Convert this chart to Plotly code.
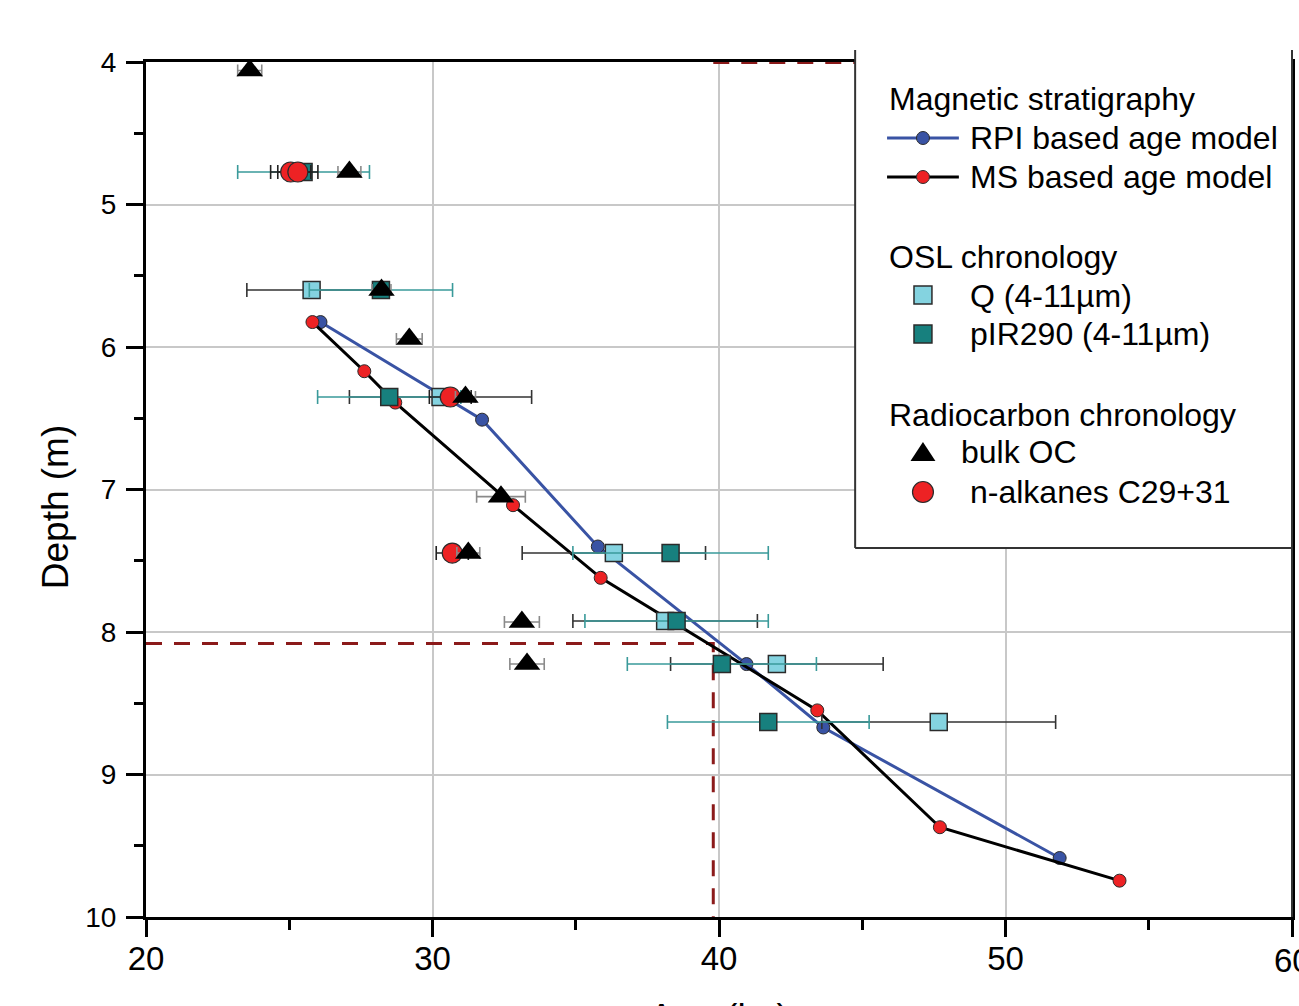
import plotly.graph_objects as go

# ---------------- data ----------------
# Magnetic stratigraphy age models (age ka, depth m)
rpi_age = [26.09, 31.73, 35.77, 40.96, 43.64, 51.89]
rpi_depth = [5.825, 6.51, 7.40, 8.225, 8.67, 9.586]

ms_age = [25.81, 27.62, 28.70, 32.81, 35.87, 43.43, 47.71, 53.98]
ms_depth = [5.825, 6.17, 6.39, 7.11, 7.62, 8.55, 9.37, 9.745]

# OSL chronology
q_age = [25.78, 30.28, 36.33, 38.12, 42.02, 47.67]
q_depth = [5.60, 6.351, 7.446, 7.923, 8.225, 8.632]
q_err = [2.26, 3.18, 3.20, 3.22, 3.71, 4.08]

pir_age = [25.50, 28.20, 28.49, 38.31, 38.52, 40.10, 41.72]
pir_depth = [4.772, 5.60, 6.351, 7.446, 7.923, 8.225, 8.632]
pir_err = [2.30, 2.50, 2.50, 3.41, 3.20, 3.30, 3.52]

# Radiocarbon chronology
oc_age = [23.62, 27.10, 28.22, 29.19, 31.15, 32.39, 31.25, 33.12, 33.30]
oc_depth = [4.06, 4.772, 5.60, 5.944, 6.351, 7.05, 7.446, 7.93, 8.225]
oc_err = [0.42, 0.40, 0.33, 0.45, 0.35, 0.85, 0.40, 0.61, 0.60]

alk_age = [25.05, 25.30, 30.62, 30.69]
alk_depth = [4.772, 4.772, 6.351, 7.446]
alk_err = [0.70, 0.70, 0.73, 0.56]

# reference (dashed) guide
guide_depth = 8.08
guide_age = 39.8

x_ticks = [20, 30, 40, 50, 60]

# ---------------- styles ----------------
FONT = "Liberation Sans, Arial, sans-serif"
BLUE = "#3953A4"
RED = "#ED2224"
TEAL = "#17807E"
TEAL_ERR = "#3A9A9A"
CYAN = "#84D3E0"
DARKRED = "#8B1A1A"
EDGE = "#2b2b2b"

fig = go.Figure()

# dashed guide lines
fig.add_trace(go.Scatter(x=[20, guide_age, guide_age], y=[guide_depth, guide_depth, 10],
                         mode="lines", line=dict(color=DARKRED, width=3, dash="16px,12px"),
                         hoverinfo="skip"))
fig.add_trace(go.Scatter(x=[guide_age, 60], y=[4.004, 4.004],
                         mode="lines", line=dict(color=DARKRED, width=3, dash="16px,12px"),
                         hoverinfo="skip"))

# age models
fig.add_trace(go.Scatter(x=rpi_age, y=rpi_depth, mode="lines+markers",
                         line=dict(color=BLUE, width=3),
                         marker=dict(size=13, color=BLUE, line=dict(color=EDGE, width=1))))
fig.add_trace(go.Scatter(x=ms_age, y=ms_depth, mode="lines+markers",
                         line=dict(color="black", width=3),
                         marker=dict(size=13, color=RED, line=dict(color=EDGE, width=1))))

# OSL
fig.add_trace(go.Scatter(x=q_age, y=q_depth, mode="markers",
                         error_x=dict(type="data", array=q_err, color="#333333", thickness=1.6, width=7),
                         marker=dict(symbol="square", size=17, color=CYAN, line=dict(color=EDGE, width=1.5))))
fig.add_trace(go.Scatter(x=pir_age, y=pir_depth, mode="markers",
                         error_x=dict(type="data", array=pir_err, color=TEAL_ERR, thickness=1.6, width=7),
                         marker=dict(symbol="square", size=17, color=TEAL, line=dict(color=EDGE, width=1.5))))

# radiocarbon
fig.add_trace(go.Scatter(x=alk_age, y=alk_depth, mode="markers",
                         error_x=dict(type="data", array=alk_err, color="#222222", thickness=1.6, width=7),
                         marker=dict(symbol="circle", size=20, color=RED, line=dict(color=EDGE, width=1.2))))
fig.add_trace(go.Scatter(x=oc_age, y=oc_depth, mode="markers",
                         error_x=dict(type="data", array=oc_err, color="#8a8a8a", thickness=1.6, width=6),
                         marker=dict(symbol="triangle-up", size=23, color="black", line=dict(color="black", width=0))))

# ---------------- axes ----------------
axis_common = dict(showline=True, linewidth=3, linecolor="black", mirror=True,
                   ticks="outside", ticklen=17, tickwidth=2.5, tickcolor="black",
                   showgrid=True, gridcolor="#c8c8c8", gridwidth=1.5, zeroline=False)
fig.update_xaxes(range=[20, 60], tickvals=x_ticks, ticktext=[str(v) for v in x_ticks[:-1]] + [""],
                 tickfont=dict(family=FONT, size=33, color="black"), ticklabelstandoff=-7,
                 minor=dict(dtick=5, tick0=20, ticks="outside", ticklen=10, tickwidth=2.5,
                            tickcolor="black", showgrid=False),
                 **axis_common)
fig.update_yaxes(range=[10, 4], tick0=4, dtick=1,
                 tickfont=dict(family=FONT, size=28, color="black"), ticklabelstandoff=4,
                 minor=dict(dtick=0.5, tick0=4, ticks="outside", ticklen=9, tickwidth=2.5,
                            tickcolor="black", showgrid=False),
                 **axis_common)

L, T, W, H = 146, 62, 1149, 855


def px(x):
    return (x - L) / W


def py(y):
    return (T + H - y) / H


shapes = []
annotations = []

# legend box
shapes.append(dict(type="rect", xref="paper", yref="paper", x0=px(857), x1=px(1296), y0=py(548), y1=py(48),
                   fillcolor="white", line=dict(width=0), layer="above"))
for (x0, y0, x1, y1) in [(857, 50, 857, 548), (857, 548, 1295, 548), (1295, 50, 1295, 917)]:
    shapes.append(dict(type="line", xref="paper", yref="paper", x0=px(x0), x1=px(x1), y0=py(y0), y1=py(y1),
                       line=dict(color="#333333", width=2), layer="above"))

# legend symbols
for yy, lc, mc in [(138, BLUE, BLUE), (177, "black", RED)]:
    shapes.append(dict(type="line", xref="paper", yref="paper", x0=px(889), x1=px(961), y0=py(yy), y1=py(yy),
                       line=dict(color=lc, width=3), layer="above"))
    shapes.append(dict(type="circle", xref="paper", yref="paper", x0=px(925 - 6.5), x1=px(925 + 6.5),
                       y0=py(yy + 6.5), y1=py(yy - 6.5), fillcolor=mc, line=dict(color=EDGE, width=1),
                       layer="above"))
for yy, fc in [(295, CYAN), (334, TEAL)]:
    shapes.append(dict(type="rect", xref="paper", yref="paper", x0=px(925 - 9), x1=px(925 + 9),
                       y0=py(yy + 9), y1=py(yy - 9), fillcolor=fc, line=dict(color=EDGE, width=1.5),
                       layer="above"))
tri = "M {} {} L {} {} L {} {} Z".format(px(912.5), py(461), px(937.5), py(461), px(925), py(442))
shapes.append(dict(type="path", xref="paper", yref="paper", path=tri, fillcolor="black",
                   line=dict(color="black", width=0), layer="above"))
shapes.append(dict(type="circle", xref="paper", yref="paper", x0=px(925 - 10.5), x1=px(925 + 10.5),
                   y0=py(492 + 10.5), y1=py(492 - 10.5), fillcolor=RED, line=dict(color=EDGE, width=1.2),
                   layer="above"))

legend_texts = [
    ("Magnetic stratigraphy", 889, 99),
    ("RPI based age model", 970, 138),
    ("MS based age model", 970, 177),
    ("OSL chronology", 889, 257),
    ("Q (4-11µm)", 970, 296),
    ("pIR290 (4-11µm)", 970, 334),
    ("Radiocarbon chronology", 889, 415),
    ("bulk OC", 961, 452),
    ("n-alkanes C29+31", 970, 492),
]
for txt, x, y in legend_texts:
    annotations.append(dict(text=txt, xref="paper", yref="paper", x=px(x), y=py(y),
                            xanchor="left", yanchor="middle", showarrow=False,
                            font=dict(family=FONT, size=32, color="black")))

# last x tick label (partly beyond the page edge, as in the original)
annotations.append(dict(text=str(x_ticks[-1]), xref="x", yref="paper", x=x_ticks[-1], y=py(960),
                        xanchor="center", yanchor="middle", showarrow=False,
                        font=dict(family=FONT, size=33, color="black")))

# axis titles
annotations.append(dict(text="Depth (m)", xref="paper", yref="paper", x=px(55), y=py(507),
                        xanchor="center", yanchor="middle", textangle=-90, showarrow=False,
                        font=dict(family=FONT, size=37, color="black")))
annotations.append(dict(text="Age (ka)", xref="paper", yref="paper", x=px(720), y=py(1017),
                        xanchor="center", yanchor="middle", showarrow=False,
                        font=dict(family=FONT, size=37, color="black")))

fig.update_layout(width=1299, height=1006, margin=dict(l=L, r=1299 - L - W, t=T, b=1006 - T - H, pad=0),
                  plot_bgcolor="white", paper_bgcolor="white", showlegend=False,
                  shapes=shapes, annotations=annotations)

fig.write_html("out.html")
